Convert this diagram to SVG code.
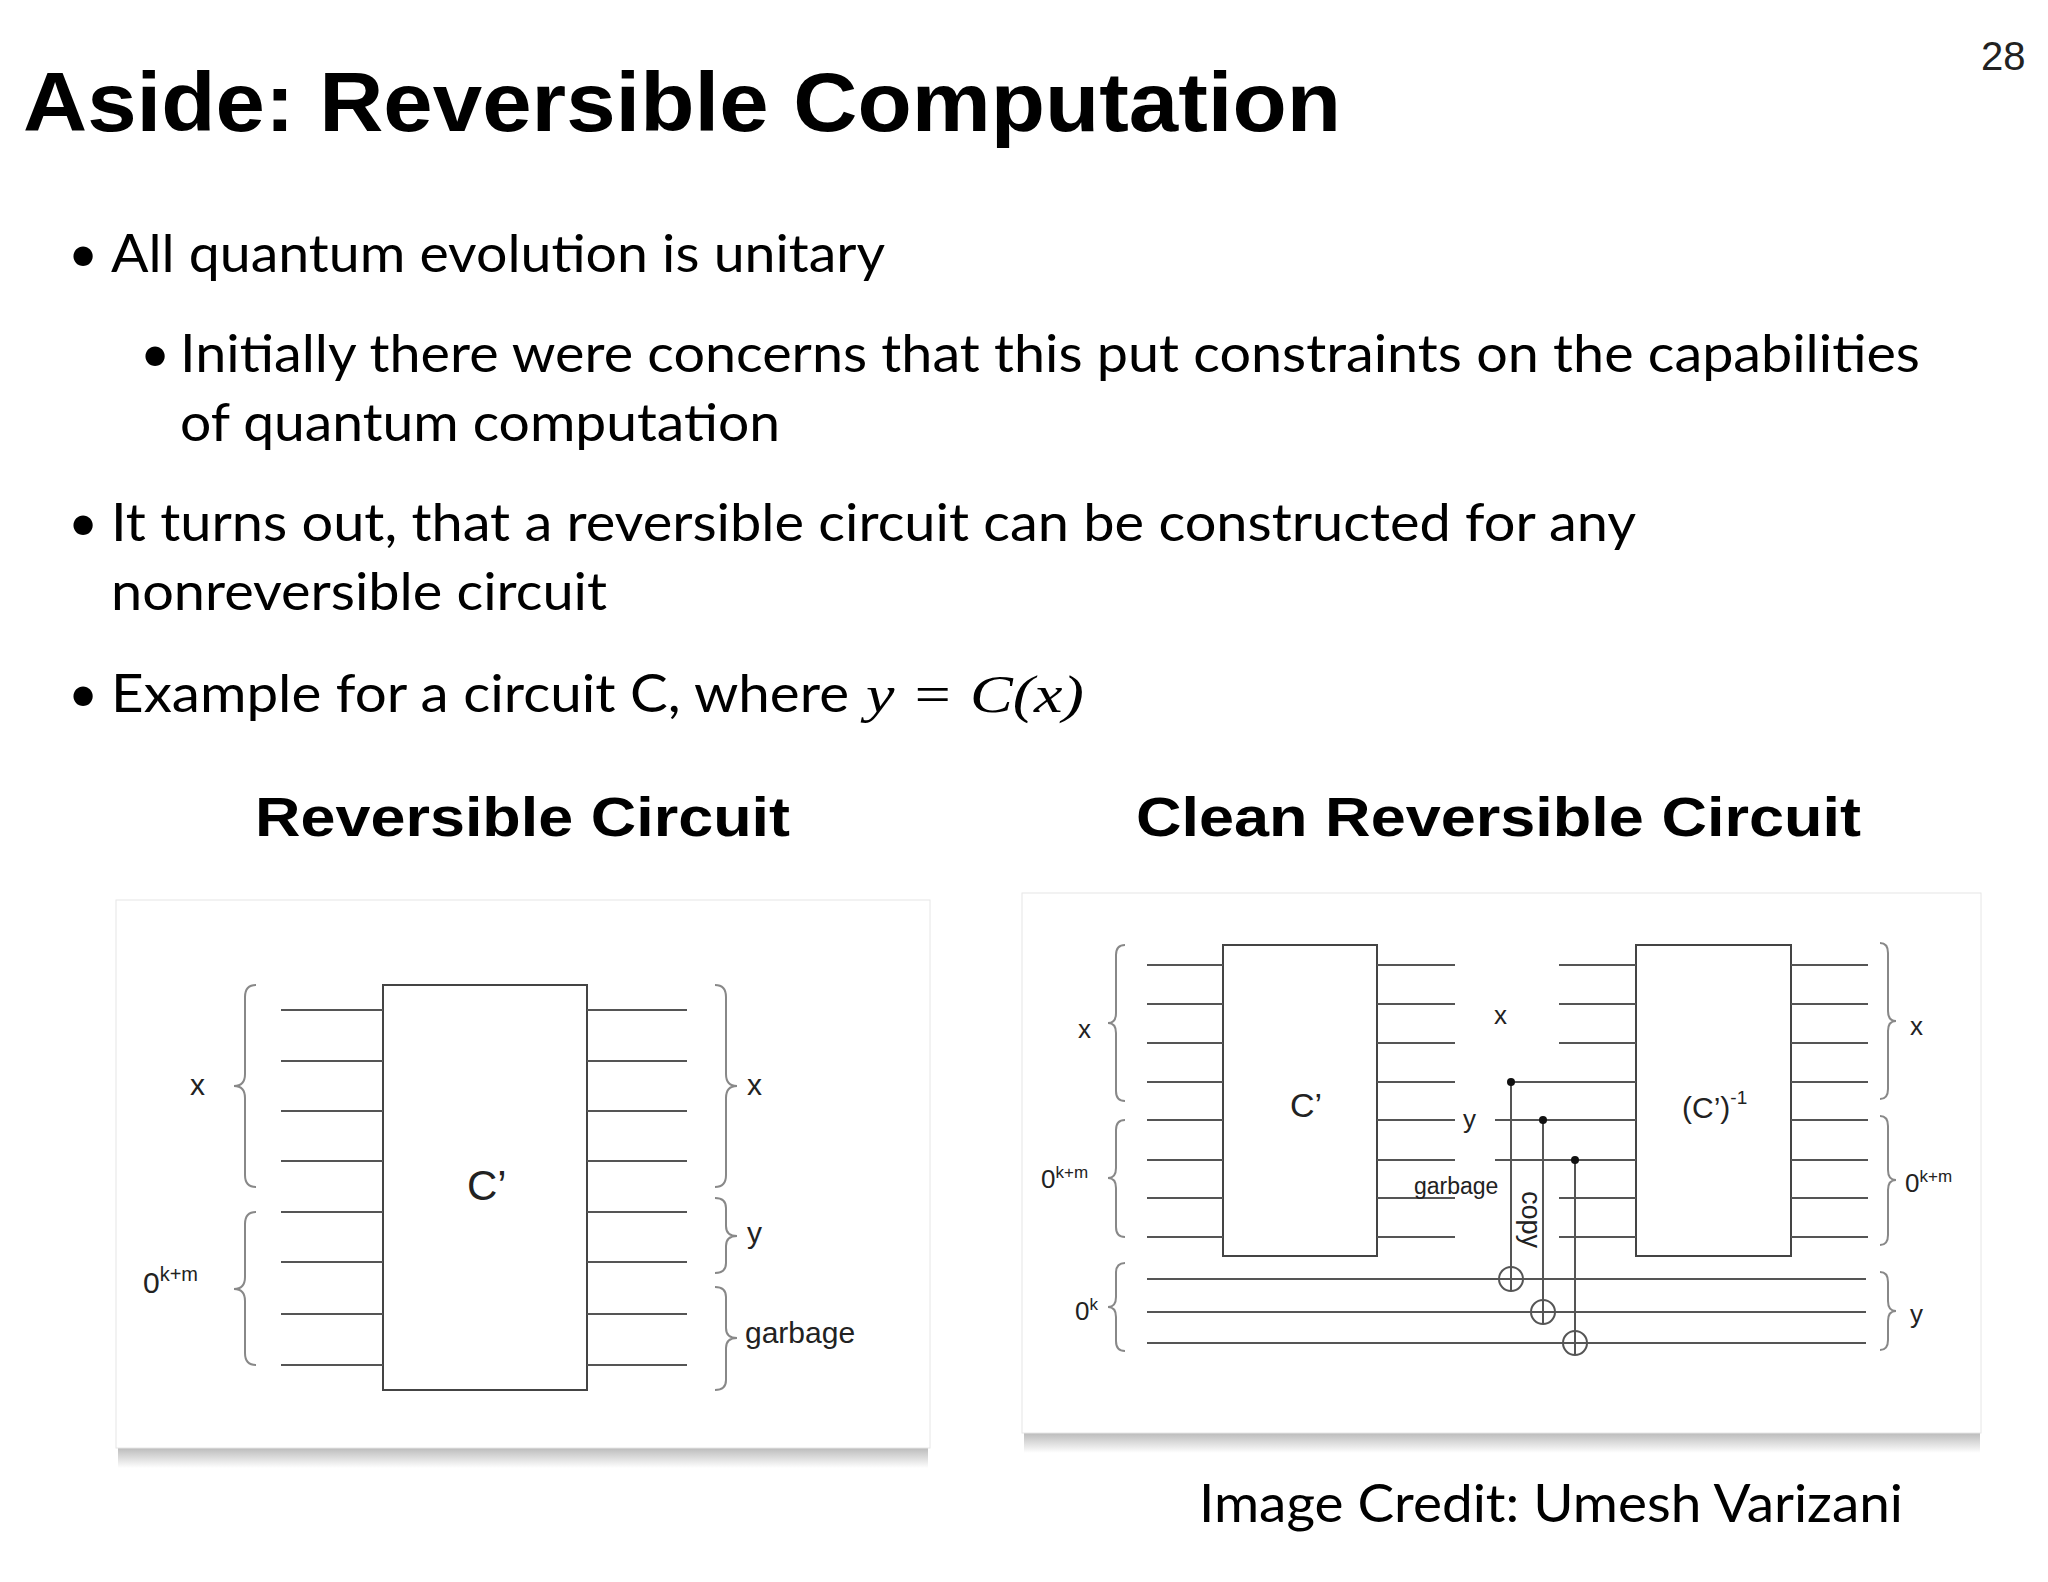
<svg xmlns="http://www.w3.org/2000/svg" width="2048" height="1582" viewBox="0 0 2048 1582">
<defs>
<style>
.t{font-family:"Lato","Open Sans",sans-serif;fill:#000}
.h{font-family:"Liberation Sans",Arial,sans-serif;font-weight:bold;fill:#000}
.c{font-family:"Liberation Sans",Arial,sans-serif;fill:#222}
.w{stroke:#555;stroke-width:2;fill:none}
.b{stroke:#888;stroke-width:2;fill:none}
.box{stroke:#444;stroke-width:2;fill:#fff}
.panel{fill:#fff;stroke:#e6e6e6;stroke-width:1}
</style>
<linearGradient id="sh" x1="0" y1="0" x2="0" y2="1"><stop offset="0" stop-color="#777"/><stop offset="1" stop-color="#fff"/></linearGradient>
</defs>
<rect width="2048" height="1582" fill="#fff"/>
<text class="h" x="23" y="131" font-size="84" textLength="1318" lengthAdjust="spacingAndGlyphs">Aside: Reversible Computation</text>
<text class="c" x="1981" y="70" font-size="40" fill="#000">28</text>
<g class="t" font-size="52">
<text x="68" y="272">•</text>
<text x="111" y="272" textLength="774" lengthAdjust="spacingAndGlyphs">All quantum evolution is unitary</text>
<text x="140" y="372">•</text>
<text x="180" y="372" textLength="1740" lengthAdjust="spacingAndGlyphs">Initially there were concerns that this put constraints on the capabilities</text>
<text x="180" y="441" textLength="600" lengthAdjust="spacingAndGlyphs">of quantum computation</text>
<text x="68" y="541">•</text>
<text x="111" y="541" textLength="1525" lengthAdjust="spacingAndGlyphs">It turns out, that a reversible circuit can be constructed for any</text>
<text x="111" y="610" textLength="496" lengthAdjust="spacingAndGlyphs">nonreversible circuit</text>
<text x="68" y="712">•</text>
<text x="111" y="712" textLength="738" lengthAdjust="spacingAndGlyphs">Example for a circuit C, where</text>
<text x="866" y="712" font-family="Liberation Serif,serif" font-style="italic" textLength="218" lengthAdjust="spacingAndGlyphs">y = C(x)</text>
</g>
<text class="h" x="255" y="836" font-size="56" textLength="535" lengthAdjust="spacingAndGlyphs">Reversible Circuit</text>
<text class="h" x="1136" y="836" font-size="56" textLength="725" lengthAdjust="spacingAndGlyphs">Clean Reversible Circuit</text>
<text class="t" x="1199" y="1522" font-size="52" textLength="704" lengthAdjust="spacingAndGlyphs">Image Credit: Umesh Varizani</text>

<g id="left-panel">
<rect x="118" y="1440" width="810" height="28" fill="url(#sh)" opacity="0.7"/>
<rect class="panel" x="116" y="900" width="814" height="548"/>
<rect class="box" x="383" y="985" width="204" height="405"/>
<g class="w">
<path d="M281 1010H383M281 1061H383M281 1111H383M281 1161H383M281 1212H383M281 1262H383M281 1314H383M281 1365H383"/>
<path d="M587 1010H687M587 1061H687M587 1111H687M587 1161H687M587 1212H687M587 1262H687M587 1314H687M587 1365H687"/>
</g>
<g class="b">
<path d="M256 985Q245 985 245 997V1074Q245 1086 234 1086Q245 1086 245 1098V1175Q245 1187 256 1187"/>
<path d="M256 1212Q245 1212 245 1224V1277Q245 1289 234 1289Q245 1289 245 1301V1353Q245 1365 256 1365"/>
<path d="M715 985Q726 985 726 997V1074Q726 1086 737 1086Q726 1086 726 1098V1175Q726 1187 715 1187"/>
<path d="M715 1198Q726 1198 726 1208V1226Q726 1236 737 1236Q726 1236 726 1246V1263Q726 1273 715 1273"/>
<path d="M715 1287Q726 1287 726 1297V1328Q726 1338 737 1338Q726 1338 726 1348V1380Q726 1390 715 1390"/>
</g>
<g class="c" font-size="30">
<text x="190" y="1095">x</text>
<text x="143" y="1293">0<tspan font-size="20" dy="-12">k+m</tspan></text>
<text x="467" y="1200" font-size="42">C’</text>
<text x="747" y="1095">x</text>
<text x="747" y="1243">y</text>
<text x="745" y="1343">garbage</text>
</g>
</g>

<g id="right-panel">
<rect x="1024" y="1425" width="956" height="28" fill="url(#sh)" opacity="0.7"/>
<rect class="panel" x="1022" y="893" width="959" height="540"/>
<rect class="box" x="1223" y="945" width="154" height="311"/>
<rect class="box" x="1636" y="945" width="155" height="311"/>
<g class="w">
<path d="M1147 965H1223M1147 1004H1223M1147 1043H1223M1147 1082H1223M1147 1120H1223M1147 1160H1223M1147 1198H1223M1147 1237H1223"/>
<path d="M1377 965H1455M1377 1004H1455M1377 1043H1455M1377 1082H1455M1377 1120H1455M1377 1160H1455M1377 1198H1455M1377 1237H1455"/>
<path d="M1559 965H1636M1559 1004H1636M1559 1043H1636M1511 1082H1636M1495 1120H1636M1495 1160H1636M1559 1198H1636M1559 1237H1636"/>
<path d="M1791 965H1868M1791 1004H1868M1791 1043H1868M1791 1082H1868M1791 1120H1868M1791 1160H1868M1791 1198H1868M1791 1237H1868"/>
<path d="M1147 1279H1866M1147 1312H1866M1147 1343H1866"/>
<path d="M1511 1082V1291M1543 1120V1324M1575 1160V1355"/>
<circle cx="1511" cy="1279" r="12"/><circle cx="1543" cy="1312" r="12"/><circle cx="1575" cy="1343" r="12"/>
</g>
<g fill="#111"><circle cx="1511" cy="1082" r="4"/><circle cx="1543" cy="1120" r="4"/><circle cx="1575" cy="1160" r="4"/></g>
<g class="b">
<path d="M1125 945Q1116 945 1116 955V1013Q1116 1023 1108 1023Q1116 1023 1116 1033V1091Q1116 1101 1125 1101"/>
<path d="M1125 1120Q1116 1120 1116 1130V1168Q1116 1178 1108 1178Q1116 1178 1116 1188V1227Q1116 1237 1125 1237"/>
<path d="M1125 1263Q1116 1263 1116 1273V1297Q1116 1307 1108 1307Q1116 1307 1116 1317V1341Q1116 1351 1125 1351"/>
<path d="M1880 943Q1888 943 1888 953V1011Q1888 1021 1896 1021Q1888 1021 1888 1031V1089Q1888 1099 1880 1099"/>
<path d="M1880 1116Q1888 1116 1888 1126V1170Q1888 1180 1896 1180Q1888 1180 1888 1190V1235Q1888 1245 1880 1245"/>
<path d="M1880 1272Q1888 1272 1888 1282V1301Q1888 1311 1896 1311Q1888 1311 1888 1321V1340Q1888 1350 1880 1350"/>
</g>
<g class="c" font-size="26">
<text x="1078" y="1038">x</text>
<text x="1041" y="1188">0<tspan font-size="17" dy="-10">k+m</tspan></text>
<text x="1075" y="1320">0<tspan font-size="17" dy="-10">k</tspan></text>
<text x="1290" y="1117" font-size="34">C’</text>
<text x="1494" y="1024">x</text>
<text x="1463" y="1128">y</text>
<text x="1414" y="1194" font-size="23">garbage</text>
<text transform="translate(1522,1191) rotate(90)" font-size="27">copy</text>
<text x="1682" y="1118" font-size="30">(C’)<tspan font-size="19" dy="-14">-1</tspan></text>
<text x="1910" y="1035">x</text>
<text x="1905" y="1192">0<tspan font-size="17" dy="-10">k+m</tspan></text>
<text x="1910" y="1323">y</text>
</g>
</g>
</svg>
